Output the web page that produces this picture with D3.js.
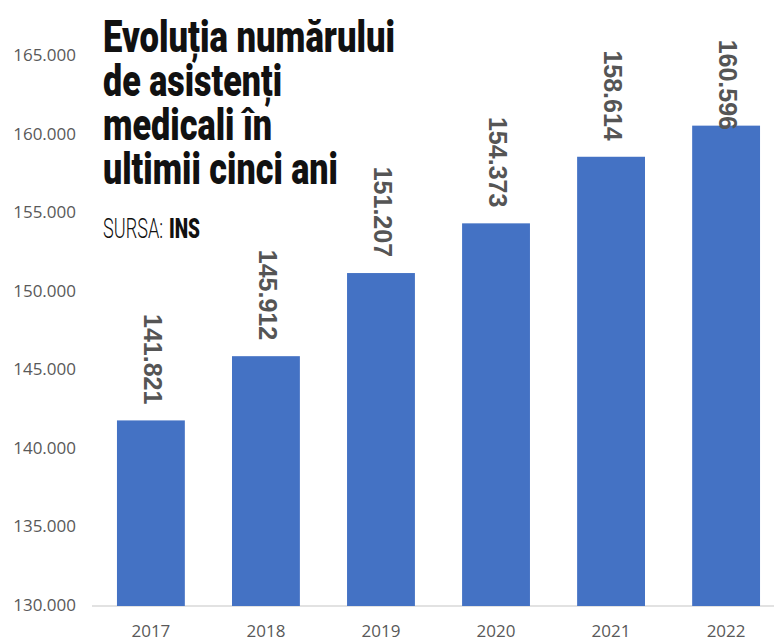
<!DOCTYPE html>
<html>
  <head>
    <meta charset="utf-8">
    <title>Evolutia numarului de asistenti medicali</title>
    <script src="https://cdn.jsdelivr.net/npm/d3@7"></script>
    <style>
      body { margin: 0; background: #fff; }
      .tick-label { font-family: "Open Sans", sans-serif; font-size: 17px; fill: #595959; }
      .value-label { font-family: "Liberation Sans", Arial, sans-serif; font-weight: bold; font-size: 25px; fill: #555; }
      .title { font-family: Roboto, sans-serif; font-weight: 900; font-size: 44px; fill: #111; }
    </style>
  </head>
  <body>
    <svg id="chart" width="774" height="641"></svg>
    <script>
      const years = ["2017", "2018", "2019", "2020", "2021", "2022"];
      const asistenti = [141821, 145912, 151207, 154373, 158614, 160596];
      const yTicks = [130000, 135000, 140000, 145000, 150000, 155000, 160000, 165000];
      const titleLines = ["Evoluția numărului", "de asistenți", "medicali în", "ultimii cinci ani"];

      const svg = d3.select("#chart");
      const ro = d3.formatLocale({ decimal: ",", thousands: ".", grouping: [3], currency: ["", " lei"] });
      const fmt = ro.format(",d");

      // scales
      const y = d3.scaleLinear().domain([130000, 165000]).range([606, 56.5]);
      const x = d3.scaleBand().domain(years).range([92, 785]).paddingInner(0.41).paddingOuter(0.217);

      // baseline
      svg.append("line")
        .attr("x1", 92).attr("x2", 774)
        .attr("y1", y(130000)).attr("y2", y(130000))
        .attr("stroke", "#d9d9d9").attr("stroke-width", 1.5);

      // y tick labels (no gridlines in the original)
      svg.selectAll(".ytick")
        .data(yTicks)
        .enter()
        .append("text")
        .attr("class", "tick-label")
        .attr("x", 76)
        .attr("y", (d) => y(d))
        .attr("text-anchor", "end")
        .attr("dominant-baseline", "middle")
        .text((d) => fmt(d));

      // x labels
      svg.selectAll(".xtick")
        .data(years)
        .enter()
        .append("text")
        .attr("class", "tick-label")
        .attr("x", (d) => x(d) + x.bandwidth() / 2)
        .attr("y", 632)
        .attr("text-anchor", "middle")
        .attr("dominant-baseline", "middle")
        .text((d) => d);

      // bars
      svg.selectAll(".bar")
        .data(asistenti)
        .enter()
        .append("rect")
        .attr("x", (d, i) => x(years[i]))
        .attr("y", (d) => y(d))
        .attr("width", x.bandwidth())
        .attr("height", (d) => y(130000) - y(d))
        .attr("fill", "#4472c4");

      // value labels, rotated, reading top to bottom; pushed down when they'd leave the plot
      const labelLen = 90;
      svg.selectAll(".val")
        .data(asistenti)
        .enter()
        .append("text")
        .attr("class", "value-label")
        .attr("text-anchor", "end")
        .attr("dominant-baseline", "middle")
        .attr("transform", (d, i) => {
          const cx = x(years[i]) + x.bandwidth() / 2;
          const end = Math.max(y(d) - 16, 40 + labelLen);
          return `translate(${cx},${end}) rotate(90)`;
        })
        .text((d) => fmt(d));

      // title block
      const titleWidths = [292, 179, 169, 235];
      svg.selectAll(".title")
        .data(titleLines)
        .enter()
        .append("text")
        .attr("class", "title")
        .attr("x", 103)
        .attr("y", (d, i) => 52 + i * 44)
        .attr("textLength", (d, i) => titleWidths[i])
        .attr("lengthAdjust", "spacingAndGlyphs")
        .text((d) => d);

      const source = svg.append("text")
        .attr("x", 103).attr("y", 238)
        .attr("font-family", "Roboto, sans-serif")
        .attr("font-size", 28)
        .attr("fill", "#111");
      source.append("tspan")
        .attr("font-weight", 300)
        .attr("textLength", 60)
        .attr("lengthAdjust", "spacingAndGlyphs")
        .text("SURSA:");
      source.append("tspan")
        .attr("dx", 6)
        .attr("font-weight", 900)
        .attr("textLength", 31)
        .attr("lengthAdjust", "spacingAndGlyphs")
        .text("INS");
    </script>
  </body>
</html>
